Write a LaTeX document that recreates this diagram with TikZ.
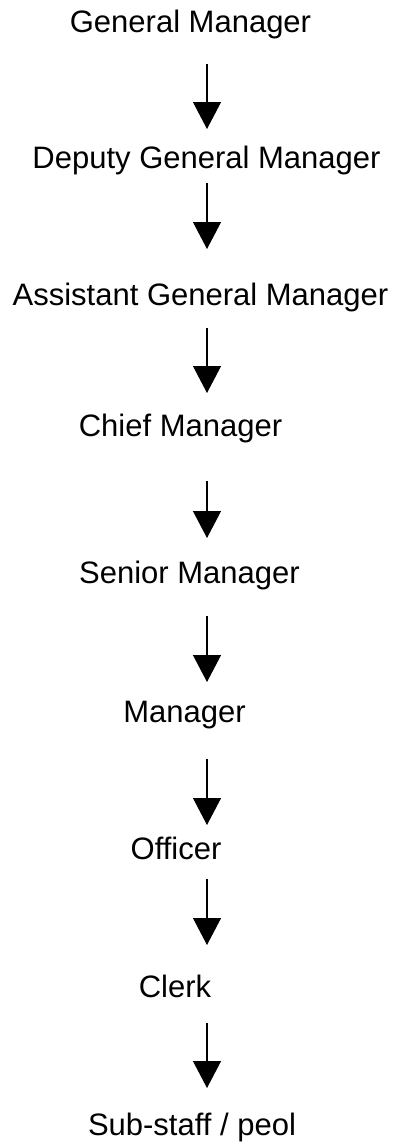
\documentclass[tikz,border=0pt]{standalone}
\usepackage{fontspec}
\setmainfont{Liberation Sans}
\usetikzlibrary{arrows.meta}
\begin{document}
\begin{tikzpicture}[x=1bp,y=-1bp,
  lbl/.style={anchor=base,inner sep=0pt,font=\fontsize{31bp}{37bp}\selectfont},
  arr/.style={line width=1.2bp,-{Triangle[width=28bp,length=27bp]}}]
\useasboundingbox (0,0) rectangle (405,1143);
\node[lbl] (gm)  at (190.5,32)  {General Manager};
\node[lbl] (dgm) at (206.5,168) {Deputy General Manager};
\node[lbl] (agm) at (200.5,305) {Assistant General Manager};
\node[lbl] (cm)  at (180.5,436) {Chief Manager};
\node[lbl] (sm)  at (189.5,583) {Senior Manager};
\node[lbl] (m)   at (184.5,722) {Manager};
\node[lbl] (o)   at (176,859)   {Officer};
\node[lbl] (c)   at (175,997)   {Clerk};
\node[lbl] (s)   at (192,1135)  {Sub-staff / peol};
\foreach \n/\a/\b in {1/64/129,2/183/249,3/328/393,4/481/538,5/616/682,6/759/825,7/879/945,8/1023/1088}{
  \coordinate (s\n) at (207,\a);
  \coordinate (e\n) at (207,\b);
}
\draw[arr] (s1) -- (e1);
\draw[arr] (s2) -- (e2);
\draw[arr] (s3) -- (e3);
\draw[arr] (s4) -- (e4);
\draw[arr] (s5) -- (e5);
\draw[arr] (s6) -- (e6);
\draw[arr] (s7) -- (e7);
\draw[arr] (s8) -- (e8);
\end{tikzpicture}
\end{document}
